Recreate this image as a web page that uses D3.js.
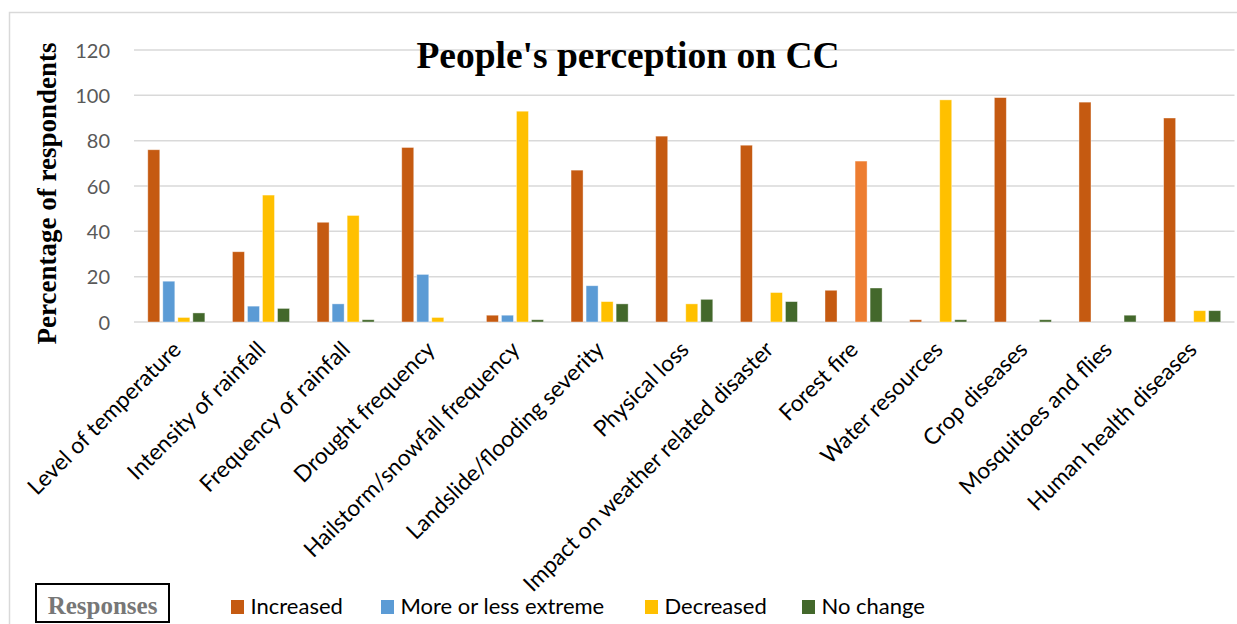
<!DOCTYPE html>
<html>
<head>
<meta charset="utf-8">
<script src="https://cdn.jsdelivr.net/npm/d3@7"></script>
<style>
  html, body { margin: 0; padding: 0; background: #fff; }
  svg { display: block; }
</style>
</head>
<body>
<svg id="chart" width="1237" height="624"></svg>
<script>
const categories = ["Level of temperature","Intensity of rainfall","Frequency of rainfall","Drought frequency","Hailstorm/snowfall frequency","Landslide/flooding severity","Physical loss","Impact on weather related disaster","Forest fire","Water resources","Crop diseases","Mosquitoes and flies","Human health diseases"];
const seriesNames = ["Increased","More or less extreme","Decreased","No change"];
const increased = [76,31,44,77,3,67,82,78,14,1,99,97,90];
const moreOrLessExtreme = [18,7,8,21,3,16,0,0,0,0,0,0,0];
const decreased = [2,56,47,2,93,9,8,13,71,98,0,0,5];
const noChange = [4,6,1,0,1,8,10,9,15,1,1,3,5];
const yTicks = [0,20,40,60,80,100,120];

const seriesValues = [increased, moreOrLessExtreme, decreased, noChange];
const colors = ["#C55A11","#5B9BD5","#FFC000","#43682B"];
// point colour override (Forest fire, Decreased) as in the original
const overrideColor = {"Forest fire|Decreased": "#ED7D31"};

const svg = d3.select("#chart");
const plotLeft = 134, plotRight = 1234.5, plotTop = 50, plotBottom = 322;
const sans = "Lato, 'Open Sans', sans-serif";
const serif = "'Liberation Serif', 'Times New Roman', serif";

// chart border
svg.append("rect").attr("x", 9.5).attr("y", 12.5).attr("width", 1260).attr("height", 640)
  .attr("fill", "none").attr("stroke", "#d9d9d9").attr("stroke-width", 1.5);

const y = d3.scaleLinear().domain([0, 120]).range([plotBottom, plotTop]);
const x0 = d3.scaleBand().domain(categories).range([plotLeft, plotRight]).paddingInner(0.29).paddingOuter(0.145);
const x1 = d3.scaleBand().domain(seriesNames).range([0, x0.bandwidth()]).paddingInner(0.2).paddingOuter(0.1);

// gridlines
svg.append("g").selectAll("line").data(yTicks).join("line")
  .attr("x1", plotLeft).attr("x2", plotRight)
  .attr("y1", d => y(d)).attr("y2", d => y(d))
  .attr("stroke", "#d9d9d9").attr("stroke-width", 1.5);

// y axis labels
const yAxis = d3.axisLeft(y).tickValues(yTicks).tickSize(0).tickPadding(0);
const gy = svg.append("g").attr("transform", `translate(${plotLeft - 24},0)`).call(yAxis);
gy.select(".domain").remove();
gy.selectAll("text").attr("font-family", sans).attr("font-size", 20)
  .attr("fill", "#595959").attr("dy", "0.35em");

// bars
const rows = [];
categories.forEach((c, i) => seriesNames.forEach((s, j) => rows.push({c, s, v: seriesValues[j][i], j})));
svg.append("g").selectAll("rect").data(rows.filter(d => d.v > 0)).join("rect")
  .attr("x", d => x0(d.c) + x1(d.s))
  .attr("width", x1.bandwidth())
  .attr("y", d => y(d.v))
  .attr("height", d => y(0) - y(d.v))
  .attr("fill", d => overrideColor[d.c + "|" + d.s] || colors[d.j])
  .attr("stroke", "#ffffff").attr("stroke-opacity", 0.5).attr("stroke-width", 0.8);

// x axis labels
const xAxis = d3.axisBottom(x0).tickSize(0).tickPadding(0);
const gx = svg.append("g").attr("transform", `translate(0,${plotBottom})`).call(xAxis);
gx.select(".domain").remove();
gx.selectAll("text")
  .attr("font-family", sans).attr("font-size", 22.6).attr("fill", "#000")
  .attr("text-anchor", "end").attr("dy", 0)
  .attr("transform", "translate(6,29) rotate(-45)");

// title
svg.append("text").attr("x", 628).attr("y", 68).attr("text-anchor", "middle")
  .attr("font-family", serif).attr("font-weight", "bold")
  .attr("font-size", 37.5).attr("fill", "#000").text("People's perception on CC");

// y title
svg.append("text").attr("transform", "translate(56,193.5) rotate(-90)").attr("text-anchor", "middle")
  .attr("font-family", serif).attr("font-weight", "bold")
  .attr("font-size", 27).attr("fill", "#000").text("Percentage of respondents");

// legend title box
svg.append("rect").attr("x", 36).attr("y", 584).attr("width", 133).attr("height", 38)
  .attr("fill", "#fff").attr("stroke", "#000").attr("stroke-width", 2);
svg.append("text").attr("x", 102.5).attr("y", 614).attr("text-anchor", "middle")
  .attr("font-family", serif).attr("font-weight", "bold")
  .attr("font-size", 25).attr("fill", "#777777").text("Responses");

// legend
const legendX = [231, 381, 645, 802];
const lg = svg.append("g").selectAll("g").data(seriesNames).join("g")
  .attr("transform", (d, i) => `translate(${legendX[i]},600)`);
lg.append("rect").attr("width", 13).attr("height", 14).attr("fill", (d, i) => colors[i]);
lg.append("text").attr("x", 19.5).attr("y", 14)
  .attr("font-family", sans).attr("font-size", 22).attr("fill", "#000")
  .text(d => d);
</script>
</body>
</html>
